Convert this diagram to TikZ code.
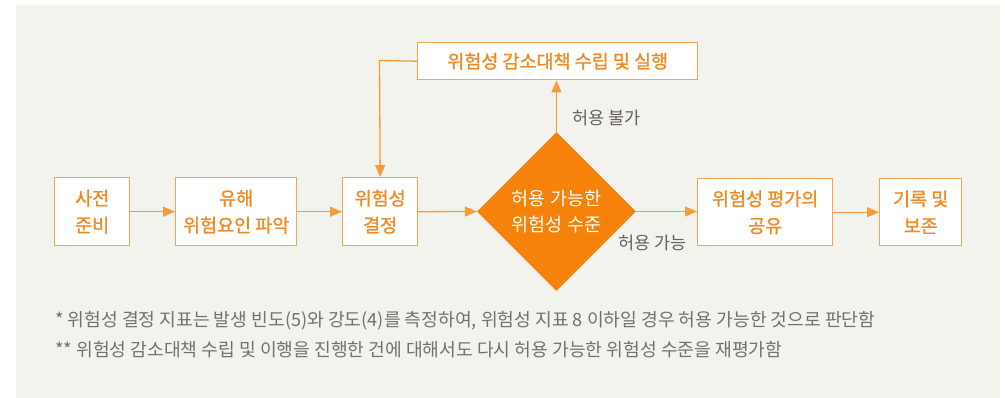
\documentclass[tikz,border=0pt]{standalone}
\usepackage{fontspec}
\setmainfont{Noto Sans CJK KR}
\newfontfamily\boxfont[FakeBold=1.2]{Noto Sans CJK KR}
\usetikzlibrary{shapes.geometric,arrows.meta}
\definecolor{bgc}{HTML}{F3F3EE}
\definecolor{orn}{HTML}{F5820A}
\definecolor{ornline}{HTML}{F7A555}
\definecolor{orntext}{HTML}{F08A24}
\definecolor{graytext}{HTML}{666060}
\tikzset{
  procbox/.style={draw=ornline, line width=1.4pt, fill=white, text=orntext,
    font=\boxfont\fontsize{18.5}{27}\selectfont, align=center, inner sep=0pt, anchor=north west},
  flow/.style={draw=orn!80, line width=1.3pt, -{Triangle[length=12pt,width=10pt]}},
  lbl/.style={text=graytext, font=\fontsize{17.5}{20}\selectfont, inner sep=0pt},
  note/.style={text=graytext!90, font=\fontsize{18.2}{22}\selectfont, inner sep=0pt, anchor=west}
}
\begin{document}
\begin{tikzpicture}[x=1pt,y=-1pt]
\useasboundingbox (0,0) rectangle (1005,398);
\fill[bgc] (16,5) rectangle (1000,398);
\node[procbox, minimum width=75pt, minimum height=68pt] (prep) at (54,177) {사전\\준비};
\node[procbox, minimum width=121pt, minimum height=68pt] (ident) at (175,177) {유해\\위험요인 파악};
\node[procbox, minimum width=75pt, minimum height=68pt] (decide) at (342,177) {위험성\\결정};
\node[diamond, aspect=1, fill=orn, text=white, minimum width=159pt, minimum height=159pt, inner sep=0pt,
  font=\fontsize{18.5}{26}\selectfont, align=center] (accept) at (556.5,211.5) {허용 가능한\\위험성 수준};
\node[procbox, minimum width=135pt, minimum height=67pt] (share) at (697,178) {위험성 평가의\\공유};
\node[procbox, minimum width=82pt, minimum height=67pt] (record) at (879,178) {기록 및\\보존};
\node[procbox, minimum width=280pt, minimum height=37pt] (reduce) at (417,42) {위험성 감소대책 수립 및 실행};
\coordinate (corner) at (379.5,60.5);
\draw[flow] (prep.east) -- (ident.west);
\draw[flow] (ident.east) -- (decide.west);
\draw[flow] (decide.east) -- (accept.west);
\draw[flow] (accept.east) -- (share.west|-accept.east);
\draw[flow] (share.east) -- (record.west);
\draw[flow] (accept.north) -- (reduce.south-|accept.north);
\draw[flow] (reduce.west) -- (corner) -- (decide.north);
\node[lbl, anchor=west] (nok) at (572,118) {허용 불가};
\node[lbl, anchor=west] (ok) at (618,243) {허용 가능};
\node[note] (n1) at (55,321) {* 위험성 결정 지표는 발생 빈도(5)와 강도(4)를 측정하여, 위험성 지표 8 이하일 경우 허용 가능한 것으로 판단함};
\node[note] (n2) at (55,350) {** 위험성 감소대책 수립 및 이행을 진행한 건에 대해서도 다시 허용 가능한 위험성 수준을 재평가함};
\end{tikzpicture}
\end{document}
